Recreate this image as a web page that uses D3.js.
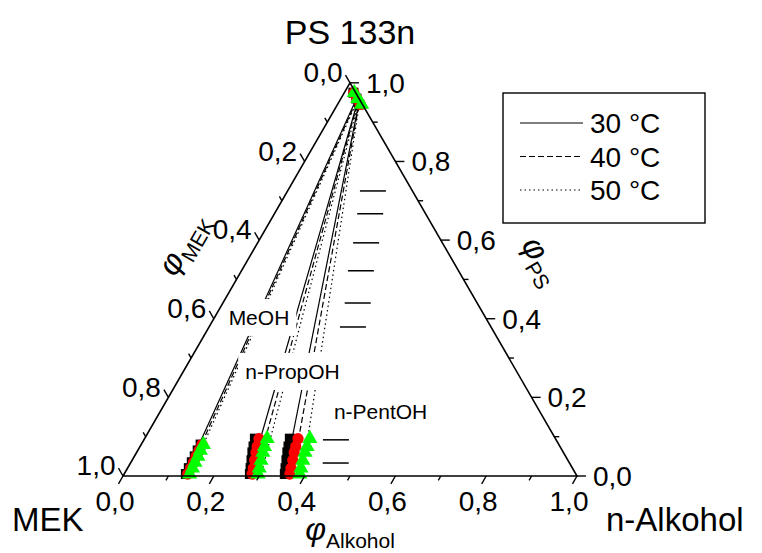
<!DOCTYPE html>
<html>
<head>
<meta charset="utf-8">
<title>PS 133n - ternary phase diagram</title>
<script src="https://d3js.org/d3.v7.min.js"></script>
<style>
  body { margin: 0; background: #fff; }
  text { font-family: Arial, "Liberation Sans", sans-serif; fill: #000; }
</style>
</head>
<body>
<svg id="chart"></svg>
<script>
// axis ticks (same for all three sides)
var tickVals = [0, 0.2, 0.4, 0.6, 0.8, 1.0];
var tickLabels = ["0,0", "0,2", "0,4", "0,6", "0,8", "1,0"];
var minorVals = [0.1, 0.3, 0.5, 0.7, 0.9];

var alcohols = ["MeOH", "n-PropOH", "n-PentOH"];
var temps = ["30 °C", "40 °C", "50 °C"];

// lean phase (bottom): phi_PS per point, phi_Alkohol per series
var psLeanMeOH = [0.005, 0.02, 0.035, 0.05, 0.065, 0.08];
var psLeanPropOH = [0.005, 0.02, 0.04, 0.06, 0.075, 0.095];
var psLeanPentOH = [0.005, 0.02, 0.04, 0.06, 0.075, 0.095];

var alkMeOH30 = [0.136, 0.135, 0.134, 0.133, 0.132, 0.131];
var alkMeOH40 = [0.140, 0.139, 0.138, 0.136, 0.135, 0.134];
var alkMeOH50 = [0.144, 0.143, 0.141, 0.140, 0.138, 0.137];
var alkPropOH30 = [0.277, 0.271, 0.263, 0.255, 0.250, 0.243];
var alkPropOH40 = [0.282, 0.277, 0.270, 0.263, 0.258, 0.252];
var alkPropOH50 = [0.295, 0.290, 0.284, 0.278, 0.274, 0.270];
var alkPentOH30 = [0.354, 0.348, 0.340, 0.332, 0.327, 0.320];
var alkPentOH40 = [0.365, 0.360, 0.354, 0.347, 0.343, 0.338];
var alkPentOH50 = [0.387, 0.382, 0.376, 0.371, 0.368, 0.364];

// rich phase (top, near PS corner)
var psRich = [0.975, 0.96, 0.945];
var alkRich30 = [0.020, 0.034, 0.048];
var alkRich40 = [0.021, 0.035, 0.050];
var alkRich50 = [0.022, 0.037, 0.053];

// tie lines: [alk lean, ps lean, alk rich, ps rich] for 30 / 40 / 50 °C
var tieMeOH = [[0.136, 0.0, 0.035, 0.955], [0.141, 0.0, 0.037, 0.955], [0.146, 0.0, 0.039, 0.953]];
var tiePropOH = [[0.279, 0.0, 0.040, 0.955], [0.291, 0.0, 0.041, 0.954], [0.303, 0.0, 0.043, 0.953]];
var tiePentOH = [[0.356, 0.0, 0.043, 0.955], [0.372, 0.0, 0.044, 0.954], [0.394, 0.0, 0.045, 0.953]];

// single points drawn as horizontal dashes
var dashAlk = [0.188, 0.211, 0.239, 0.263, 0.297, 0.317, 0.423, 0.452];
var dashPS = [0.725, 0.667, 0.593, 0.522, 0.440, 0.379, 0.092, 0.033];

// ---------------------------------------------------------------
var W = 762, H = 553;
var x0 = 123, y0 = 476, side = 454, hgt = side * Math.sqrt(3) / 2;

var xs = d3.scaleLinear().domain([0, 1]).range([x0, x0 + side]);
var ys = d3.scaleLinear().domain([0, 1]).range([y0, y0 - hgt]);

// ternary -> pixel (phi_Alkohol, phi_PS)
function pt(alk, ps) { return [xs(alk + ps / 2), ys(ps)]; }

var svg = d3.select("#chart").attr("width", W).attr("height", H);

var dashStyle = [null, "6,3", "1.5,3"];
var tieSets = [tieMeOH, tiePropOH, tiePentOH];

// tie lines
var lineG = svg.append("g").attr("fill", "none").attr("stroke", "#000").attr("stroke-width", 1.2);
tieSets.forEach(function(set) {
    set.forEach(function(t, i) {
        var a = pt(t[0], t[1]), b = pt(t[2], t[3]);
        lineG.append("line")
            .attr("x1", a[0]).attr("y1", a[1])
            .attr("x2", b[0]).attr("y2", b[1])
            .attr("stroke-dasharray", dashStyle[i]);
    });
});

// markers
var symbols = [
    { type: d3.symbolSquare, size: 100, color: "#000000" },
    { type: d3.symbolCircle, size: 100, color: "#ff0000" },
    { type: d3.symbolTriangle, size: 100, color: "#00ff00" }
];
var leanSets = [
    [psLeanMeOH, [alkMeOH30, alkMeOH40, alkMeOH50]],
    [psLeanPropOH, [alkPropOH30, alkPropOH40, alkPropOH50]],
    [psLeanPentOH, [alkPentOH30, alkPentOH40, alkPentOH50]]
];
var richSets = [alkRich30, alkRich40, alkRich50];

var markG = svg.append("g");
[0, 1, 2].forEach(function(ti) {
    var sym = d3.symbol().type(symbols[ti].type).size(symbols[ti].size);
    leanSets.forEach(function(ls) {
        ls[1][ti].forEach(function(alk, k) {
            var p = pt(alk, ls[0][k]);
            markG.append("path").attr("d", sym)
                .attr("transform", "translate(" + p[0] + "," + p[1] + ")")
                .attr("fill", symbols[ti].color);
        });
    });
    richSets[ti].forEach(function(alk, k) {
        var p = pt(alk, psRich[k]);
        markG.append("path").attr("d", sym)
            .attr("transform", "translate(" + p[0] + "," + p[1] + ")")
            .attr("fill", symbols[ti].color);
    });
});

// dash points
dashAlk.forEach(function(a, i) {
    var p = pt(a, dashPS[i]);
    svg.append("line")
        .attr("x1", p[0] - 13).attr("x2", p[0] + 13)
        .attr("y1", p[1]).attr("y2", p[1])
        .attr("stroke", "#000").attr("stroke-width", 1.5);
});

// alcohol labels on white boxes
var labelPos = [[0.0985, 0.402], [0.241, 0.2646], [0.486, 0.1628]];
alcohols.forEach(function(name, i) {
    var p = pt(labelPos[i][0], labelPos[i][1]);
    var g = svg.append("g");
    var r = g.append("rect").attr("fill", "#fff");
    var t = g.append("text")
        .attr("x", p[0]).attr("y", p[1] + 7)
        .attr("text-anchor", "middle")
        .style("font-size", "21px")
        .text(name);
    var bb = t.node().getBBox();
    r.attr("x", bb.x - 7).attr("y", bb.y - 7)
        .attr("width", bb.width + 14).attr("height", bb.height + 14);
});

// triangle frame
var A = pt(0, 0), B = pt(1, 0), C = pt(0, 1);
svg.append("path")
    .attr("d", "M" + A + "L" + B + "L" + C + "Z")
    .attr("fill", "none").attr("stroke", "#000").attr("stroke-width", 1.6);

// axes
var axes = [
    { pos: function(v) { return pt(v, 0); }, dir: [-0.5, 0.866],
      lab: function(e) { return [e[0] - 3.5, e[1] + 27, "middle"]; } },
    { pos: function(v) { return pt(0, 1 - v); }, dir: [-0.5, -0.866],
      lab: function(e) { return [e[0] - 3, e[1] + 7, "end"]; } },
    { pos: function(v) { return pt(1 - v, v); }, dir: [1, 0],
      lab: function(e) { return [e[0] + 7, e[1] + 10, "start"]; } }
];
var axG = svg.append("g").attr("stroke", "#000").attr("stroke-width", 1.4);
axes.forEach(function(ax) {
    minorVals.forEach(function(v) {
        var p = ax.pos(v);
        axG.append("line").attr("x1", p[0]).attr("y1", p[1])
            .attr("x2", p[0] + ax.dir[0] * 5).attr("y2", p[1] + ax.dir[1] * 5);
    });
    tickVals.forEach(function(v, i) {
        var p = ax.pos(v);
        var e = [p[0] + ax.dir[0] * 9, p[1] + ax.dir[1] * 9];
        axG.append("line").attr("x1", p[0]).attr("y1", p[1])
            .attr("x2", e[0]).attr("y2", e[1]);
        var l = ax.lab(e);
        svg.append("text").attr("x", l[0]).attr("y", l[1])
            .attr("text-anchor", l[2])
            .style("font-size", "28px")
            .text(tickLabels[i]);
    });
});

// axis titles
function axisTitle(cx, cy, angle, sub) {
    var t = svg.append("text")
        .attr("transform", "translate(" + cx + "," + cy + ") rotate(" + angle + ")")
        .attr("y", 8)
        .attr("text-anchor", "middle");
    t.append("tspan").style("font-size", "32px").style("font-style", "italic").text("φ");
    t.append("tspan").attr("dy", 8).style("font-size", "21px").text(sub);
}
axisTitle(185, 245, -60, "MEK");
axisTitle(540, 262, 60, "PS");
axisTitle(350, 532, 0, "Alkohol");

// corner names
svg.append("text").attr("x", C[0]).attr("y", 44).attr("text-anchor", "middle")
    .style("font-size", "34px").text("PS 133n");
svg.append("text").attr("x", 12).attr("y", 531)
    .style("font-size", "33px").text("MEK");
svg.append("text").attr("x", 606).attr("y", 531)
    .style("font-size", "33px").text("n-Alkohol");

// legend
var leg = svg.append("g");
leg.append("rect").attr("x", 503).attr("y", 93).attr("width", 202).attr("height", 130)
    .attr("fill", "#fff").attr("stroke", "#000").attr("stroke-width", 1.4);
temps.forEach(function(tp, i) {
    var y = 123 + i * 33.5;
    leg.append("line").attr("x1", 520).attr("x2", 583).attr("y1", y).attr("y2", y)
        .attr("stroke", "#000").attr("stroke-width", 1.2)
        .attr("stroke-dasharray", dashStyle[i]);
    leg.append("text").attr("x", 590).attr("y", y + 10)
        .style("font-size", "28px").text(tp);
});
</script>
</body>
</html>
